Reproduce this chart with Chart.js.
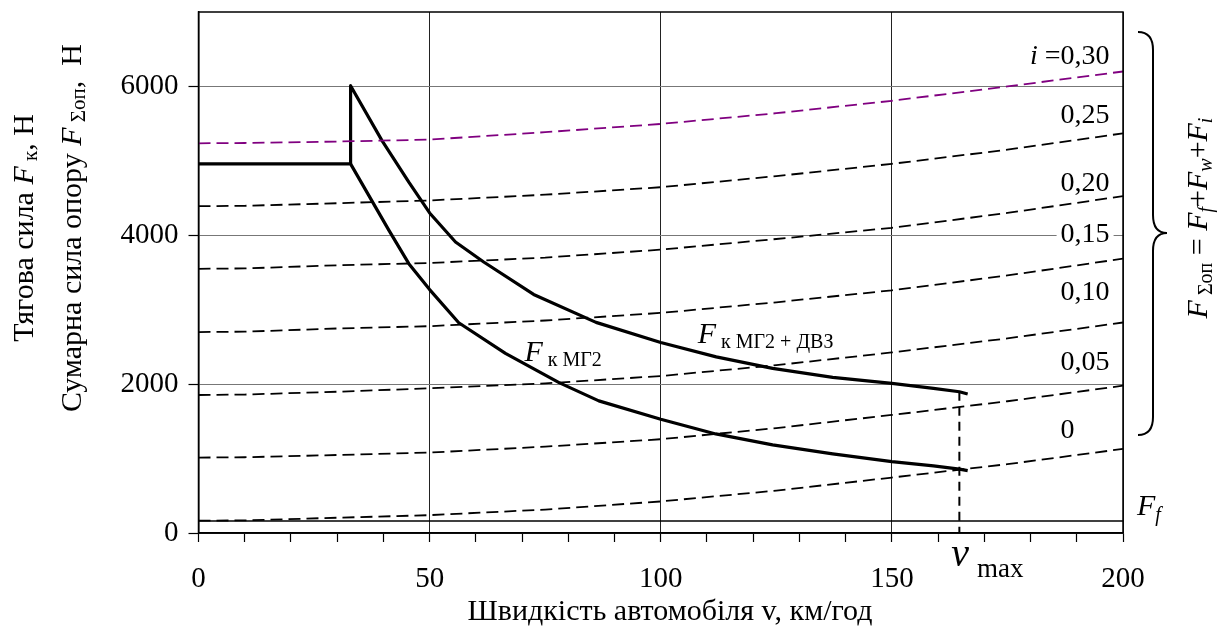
<!DOCTYPE html>
<html><head><meta charset="utf-8">
<script src="https://cdn.jsdelivr.net/npm/chart.js@4/dist/chart.umd.min.js"></script>
<style>html,body{margin:0;padding:0;background:#fff}#wrap{width:1219px;height:626px}</style>
</head><body><div id="wrap"><canvas id="c" width="1219" height="626"></canvas></div>
<script>
// ---- data ----
const xTicksLabeled = [0, 50, 100, 150, 200];
const yTicks = [0, 2000, 4000, 6000];
const vRes = [0, 10, 30, 50, 75, 100, 125, 150, 175, 200];
const resI000 = [165, 170, 205, 240, 315, 424, 570, 745, 925, 1130];
const resI005 = [1013, 1018, 1048, 1081, 1160, 1260, 1410, 1586, 1770, 1979];
const resI010 = [1854, 1860, 1898, 1944, 2010, 2109, 2255, 2426, 2615, 2828];
const resI015 = [2700, 2705, 2748, 2779, 2855, 2957, 3100, 3261, 3460, 3686];
const resI020 = [3550, 3555, 3597, 3628, 3700, 3807, 3950, 4100, 4300, 4526];
const resI025 = [4391, 4396, 4431, 4468, 4545, 4646, 4795, 4960, 5150, 5370];
const resI030 = [5236, 5240, 5259, 5286, 5385, 5496, 5640, 5807, 6000, 6201];
const vMG2 = [0, 32.9, 41.2, 45.5, 50, 56.3, 66.4, 78, 86.6, 100, 111.9, 124.2, 137.2, 150, 159, 164.6, 166.4];
const fMG2 = [4960, 4960, 4066, 3619, 3270, 2825, 2413, 2020, 1775, 1528, 1331, 1184, 1063, 960, 902, 858, 839];
const vSum = [32.9, 32.9, 39.7, 45.5, 50, 55.6, 61.7, 72.5, 86, 100, 112, 124.2, 137.2, 150, 159, 164.6, 166.4];
const fSum = [4960, 6010, 5272, 4713, 4300, 3909, 3641, 3205, 2830, 2560, 2367, 2212, 2091, 2011, 1944, 1898, 1867];
const vFf = [0, 200];
const fFf = [160, 160];
const vVmax = [164.6, 164.6];
const fVmax = [1898, 0];
const slopeLabels = ['i =0,30', '0,25', '0,20', '0,15', '0,10', '0,05', '0'];
const slopeLabelF = [6438, 5647, 4736, 4039, 3261, 2323, 1412];

const SERIF = '"Liberation Serif", "Times New Roman", serif';
const pts = (xs, ys) => xs.map((x, k) => ({x: x, y: ys[k]}));
const dashed = (xs, ys, color) => ({data: pts(xs, ys), borderColor: color, borderWidth: 1.8, borderDash: [12, 6], pointRadius: 0, tension: 0, fill: false});

function drawRich(ctx, segs, x, y, align) {
  let w = 0;
  segs.forEach(s => { ctx.font = s.font; w += ctx.measureText(s.t).width; });
  let cx = align === 'center' ? x - w / 2 : (align === 'right' ? x - w : x);
  ctx.textBaseline = 'alphabetic';
  ctx.textAlign = 'left';
  segs.forEach(s => { ctx.font = s.font; ctx.fillText(s.t, cx, y + (s.dy || 0)); cx += ctx.measureText(s.t).width; });
  return w;
}
const F = sz => 'italic ' + sz + 'px ' + SERIF;
const R = sz => sz + 'px ' + SERIF;

const deco = {
  id: 'deco',
  afterDraw(chart) {
    const ctx = chart.ctx, a = chart.chartArea, xs = chart.scales.x, ys = chart.scales.y;
    ctx.save();
    ctx.fillStyle = '#000';
    ctx.strokeStyle = '#000';
    // frame
    ctx.lineWidth = 1.5;
    ctx.strokeRect(a.left, a.top, a.right - a.left, a.bottom - a.top);
    // slope labels
    slopeLabels.forEach((t, k) => {
      const px = xs.getPixelForValue(186.5), py = ys.getPixelForValue(slopeLabelF[k]) + 10;
      if (k === 0) {
        drawRich(ctx, [{t: 'i', font: F(28)}, {t: ' =', font: R(28)}], px, py, 'right');
        drawRich(ctx, [{t: '0,30', font: R(28)}], px, py, 'left');
      } else {
        ctx.font = R(28);
        if (t === '0,15') { const w = ctx.measureText(t).width; ctx.fillStyle = '#fff'; ctx.fillRect(px - 4, py - 22, w + 8, 26); ctx.fillStyle = '#000'; }
        drawRich(ctx, [{t: t, font: R(28)}], px, py, 'left');
      }
    });
    // curve labels
    drawRich(ctx, [{t: 'F', font: F(30)}, {t: ' к МГ2', font: R(20), dy: 5}], xs.getPixelForValue(70.5), ys.getPixelForValue(2450) + 10, 'left');
    drawRich(ctx, [{t: 'F', font: F(30)}, {t: ' к МГ2 + ДВЗ', font: R(20), dy: 5}], xs.getPixelForValue(108), ys.getPixelForValue(2690) + 10, 'left');
    // F_f
    drawRich(ctx, [{t: 'F', font: F(30)}, {t: 'f', font: F(20), dy: 6}], a.right + 14, ys.getPixelForValue(160) - 6, 'left');
    // v max
    drawRich(ctx, [{t: 'v', font: F(40)}], xs.getPixelForValue(164.6) - 8, 566, 'left');
    drawRich(ctx, [{t: 'max', font: R(27)}], 977, 577, 'left');
    // x title
    drawRich(ctx, [{t: 'Швидкість автомобіля v, км/год', font: R(30)}], 670, 620, 'center');
    // y titles
    ctx.save(); ctx.translate(33, 228); ctx.rotate(-Math.PI / 2);
    drawRich(ctx, [{t: 'Тягова сила ', font: R(30)}, {t: 'F', font: F(30)}, {t: ' к', font: R(21), dy: 4}, {t: ', Н', font: R(30)}], 0, 0, 'center');
    ctx.restore();
    ctx.save(); ctx.translate(81, 228); ctx.rotate(-Math.PI / 2);
    drawRich(ctx, [{t: 'Сумарна сила опору ', font: R(30)}, {t: 'F', font: F(30)}, {t: ' Σоп', font: R(21), dy: 4}, {t: ',  Н', font: R(30)}], 0, 0, 'center');
    ctx.restore();
    // brace
    ctx.lineWidth = 2;
    ctx.beginPath();
    const bx = 1153, top = 32, bot = 435, tip = 233;
    ctx.moveTo(1138, top);
    ctx.quadraticCurveTo(bx, top, bx, top + 18);
    ctx.lineTo(bx, tip - 18);
    ctx.quadraticCurveTo(bx, tip, 1167, tip);
    ctx.quadraticCurveTo(bx, tip, bx, tip + 18);
    ctx.lineTo(bx, bot - 18);
    ctx.quadraticCurveTo(bx, bot, 1138, bot);
    ctx.stroke();
    // right formula
    ctx.save(); ctx.translate(1207, 218); ctx.rotate(-Math.PI / 2);
    drawRich(ctx, [{t: 'F', font: F(30)}, {t: ' Σоп', font: R(20), dy: 5}, {t: ' = ', font: R(30)}, {t: 'F', font: F(30)}, {t: 'f', font: F(20), dy: 5}, {t: '+', font: R(30)},
      {t: 'F', font: F(30)}, {t: 'w', font: F(20), dy: 5}, {t: '+', font: R(30)}, {t: 'F', font: F(30)}, {t: 'i', font: F(20), dy: 5}], 0, 0, 'center');
    ctx.restore();
    ctx.restore();
  }
};

new Chart(document.getElementById('c'), {
  type: 'line',
  data: {
    datasets: [
      dashed(vRes, resI000, '#000'),
      dashed(vRes, resI005, '#000'),
      dashed(vRes, resI010, '#000'),
      dashed(vRes, resI015, '#000'),
      dashed(vRes, resI020, '#000'),
      dashed(vRes, resI025, '#000'),
      dashed(vRes, resI030, '#800080'),
      {data: pts(vFf, fFf), borderColor: '#000', borderWidth: 1.5, pointRadius: 0, tension: 0},
      {data: pts(vVmax, fVmax), borderColor: '#000', borderWidth: 2, borderDash: [9, 6], pointRadius: 0, tension: 0},
      {data: pts(vMG2, fMG2), borderColor: '#000', borderWidth: 3.2, pointRadius: 0, tension: 0, borderJoinStyle: 'round'},
      {data: pts(vSum, fSum), borderColor: '#000', borderWidth: 3.2, pointRadius: 0, tension: 0, borderJoinStyle: 'round'}
    ]
  },
  options: {
    responsive: false,
    animation: false,
    layout: {padding: {top: 12, right: 96, left: 0, bottom: 0}},
    plugins: {legend: {display: false}, tooltip: {enabled: false}},
    scales: {
      x: {
        type: 'linear', min: 0, max: 200,
        afterFit: s => { s.height = 93; s.paddingLeft = 0; s.paddingRight = 0; },
        ticks: {stepSize: 10, autoSkip: false, maxRotation: 0, padding: 20, color: '#000', font: {family: SERIF, size: 29},
          callback: v => xTicksLabeled.includes(v) ? String(v) : ''},
        grid: {color: c => (xTicksLabeled.includes(c.tick.value) ? '#222' : 'rgba(0,0,0,0)'), lineWidth: 1, tickLength: 9, tickColor: '#000', tickWidth: 1.2},
        border: {color: '#000', width: 1.5}
      },
      y: {
        type: 'linear', min: 0, max: 7000,
        afterFit: s => { s.width = 198.5; s.paddingTop = 0; s.paddingBottom = 0; },
        afterBuildTicks: s => { s.ticks = yTicks.map(v => ({value: v})); },
        ticks: {padding: 10, color: '#000', font: {family: SERIF, size: 29}, callback: v => String(v)},
        grid: {color: '#777', lineWidth: 1, tickLength: 10, tickColor: '#000', tickWidth: 1.2},
        border: {color: '#000', width: 1.5}
      }
    }
  },
  plugins: [deco]
});
</script></body></html>
